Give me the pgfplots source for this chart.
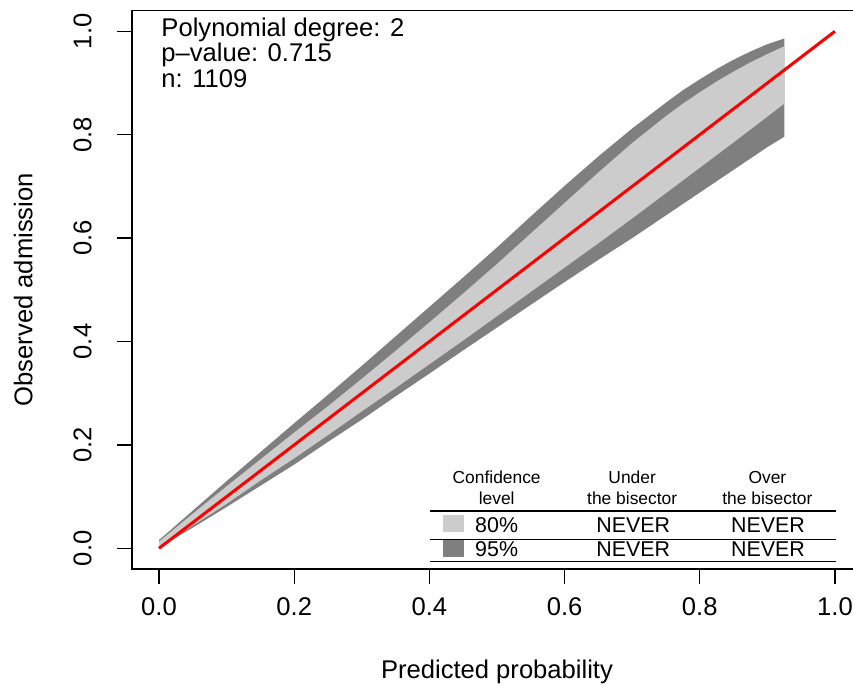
\documentclass[border=0pt]{standalone}
\usepackage{fontspec}
\setmainfont{Liberation Sans}
\usepackage{pgfplots}
\pgfplotsset{compat=1.18}
\definecolor{belt80}{RGB}{204,204,204}
\definecolor{belt95}{RGB}{127,127,127}
\begin{document}
\begin{tikzpicture}
\begin{axis}[
  scale only axis, width=365pt, height=279.2pt,
  xmin=-0.04, xmax=1.04, ymin=-0.04, ymax=1.04,
  clip=false,
  axis line style={line width=0.6pt},
  tick pos=left, tick align=outside, major tick length=7.5pt,
  major tick style={line width=0.6pt, black},
  xtick={0,0.2,0.4,0.6,0.8,1.0}, ytick={0,0.2,0.4,0.6,0.8,1.0},
  xticklabels={0.0,0.2,0.4,0.6,0.8,1.0},
  yticklabels={0.0,0.2,0.4,0.6,0.8,1.0},
  tick label style={font=\fontsize{12.8pt}{14pt}\selectfont},
  /pgf/number format/assume math mode=true,
  xticklabel style={anchor=north, inner sep=0pt, yshift=-6.5pt},
  yticklabel style={rotate=90, anchor=south, inner sep=0pt, yshift=12.5pt},
  xlabel={Predicted probability},
  ylabel={Observed admission},
  label style={font=\fontsize{12.8pt}{14pt}\selectfont},
  xlabel style={at={(axis description cs:0.5,0)}, anchor=north, inner sep=0pt, yshift=-45.5pt},
  ylabel style={at={(axis description cs:0,0.5)}, anchor=south, inner sep=0pt, yshift=49.5pt},
]
% 95% belt
\addplot[fill=belt95, draw=none] coordinates {
(0,0.016) (0.05,0.073) (0.1,0.13) (0.15,0.186) (0.2,0.242) (0.25,0.297) (0.3,0.353) (0.35,0.41) (0.4,0.467) (0.45,0.524) (0.5,0.582) (0.55,0.642) (0.6,0.701) (0.65,0.758) (0.7,0.812) (0.75,0.862) (0.775,0.886) (0.8,0.907) (0.825,0.927) (0.85,0.945) (0.875,0.961) (0.9,0.975) (0.925,0.986)
(0.925,0.796) (0.9,0.776) (0.85,0.732) (0.8,0.688) (0.75,0.644) (0.7,0.6) (0.65,0.558) (0.6,0.515) (0.55,0.471) (0.5,0.427) (0.45,0.383) (0.4,0.338) (0.35,0.294) (0.3,0.249) (0.25,0.206) (0.2,0.162) (0.15,0.121) (0.1,0.08) (0.05,0.04) (0,0.002)
} -- cycle;
% 80% belt
\addplot[fill=belt80, draw=none] coordinates {
(0,0.013) (0.05,0.067) (0.1,0.12) (0.15,0.172) (0.2,0.224) (0.25,0.275) (0.3,0.328) (0.35,0.382) (0.4,0.437) (0.45,0.493) (0.5,0.55) (0.55,0.609) (0.6,0.668) (0.65,0.727) (0.7,0.784) (0.75,0.836) (0.775,0.860) (0.8,0.882) (0.825,0.903) (0.85,0.922) (0.875,0.940) (0.9,0.956) (0.925,0.971)
(0.925,0.86) (0.9,0.835) (0.85,0.785) (0.8,0.736) (0.75,0.687) (0.7,0.638) (0.65,0.59) (0.6,0.543) (0.55,0.496) (0.5,0.449) (0.45,0.402) (0.4,0.356) (0.35,0.31) (0.3,0.265) (0.25,0.219) (0.2,0.174) (0.15,0.131) (0.1,0.086) (0.05,0.044) (0,0.004)
} -- cycle;
% bisector
\addplot[red, line width=1.5pt] coordinates {(0,0) (1,1)};
% annotation text
\node[anchor=north west, inner sep=0pt, align=left, font=\fontsize{12.8pt}{12.75pt}\selectfont]
  at (axis cs:0.003,1.027) {Polynomial degree: 2\\p\textendash value: 0.715\\n: 1109};
% legend table
\draw[line width=0.6pt] (axis cs:0.401,0.0721) -- (axis cs:1.0015,0.0721);
\draw[line width=0.6pt] (axis cs:0.401,0.0168) -- (axis cs:1.0015,0.0168);
\draw[line width=0.6pt] (axis cs:0.401,-0.0251) -- (axis cs:1.0015,-0.0251);
\node[align=center, inner sep=0pt, font=\fontsize{8.7pt}{10.8pt}\selectfont] at (axis cs:0.4995,0.117) {Confidence\\level};
\node[align=center, inner sep=0pt, font=\fontsize{8.7pt}{10.8pt}\selectfont] at (axis cs:0.700,0.117) {Under\\the bisector};
\node[align=center, inner sep=0pt, font=\fontsize{8.7pt}{10.8pt}\selectfont] at (axis cs:0.900,0.117) {Over\\the bisector};
\fill[belt80] (axis cs:0.4197,0.0315) rectangle (axis cs:0.4512,0.0638);
\fill[belt95] (axis cs:0.4197,-0.0168) rectangle (axis cs:0.4512,0.0155);
\node[inner sep=0pt, font=\fontsize{10.7pt}{12pt}\selectfont] at (axis cs:0.4995,0.0445) {80\%};
\node[inner sep=0pt, font=\fontsize{10.7pt}{12pt}\selectfont] at (axis cs:0.4995,-0.0025) {95\%};
\node[inner sep=0pt, font=\fontsize{10.7pt}{12pt}\selectfont] at (axis cs:0.7017,0.0445) {NEVER};
\node[inner sep=0pt, font=\fontsize{10.7pt}{12pt}\selectfont] at (axis cs:0.7017,-0.0025) {NEVER};
\node[inner sep=0pt, font=\fontsize{10.7pt}{12pt}\selectfont] at (axis cs:0.901,0.0445) {NEVER};
\node[inner sep=0pt, font=\fontsize{10.7pt}{12pt}\selectfont] at (axis cs:0.901,-0.0025) {NEVER};
\coordinate (sw) at (rel axis cs:0,0);
\end{axis}
\pgfresetboundingbox
\useasboundingbox ([shift={(-66pt,-58.5pt)}]sw) rectangle ++(426.5pt,343pt);
\end{tikzpicture}
\end{document}
